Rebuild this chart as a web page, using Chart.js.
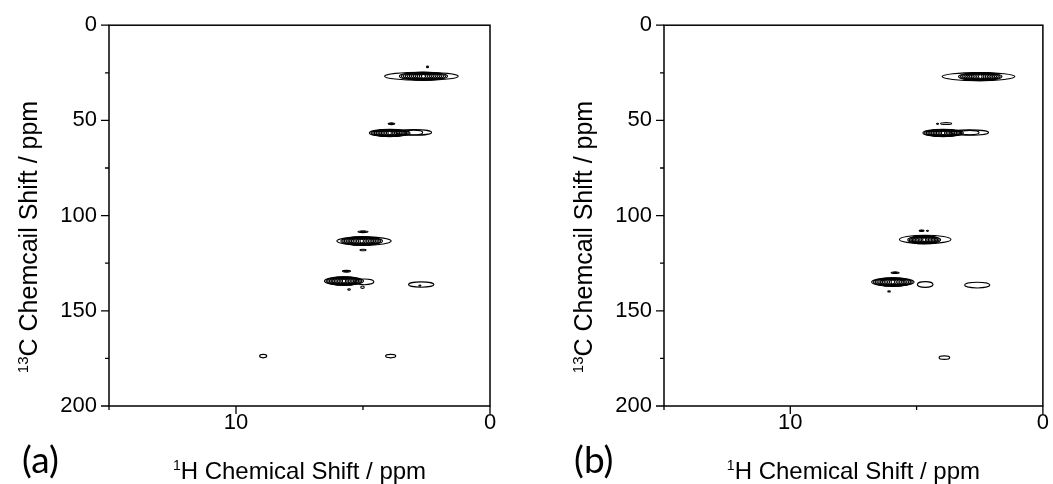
<!DOCTYPE html>
<html>
<head>
<meta charset="utf-8">
<script src="https://cdn.jsdelivr.net/npm/chart.js@4.4.0/dist/chart.umd.min.js"></script>
<style>
  html, body { margin: 0; padding: 0; background: #fff; }
  #wrap { position: relative; width: 1053px; height: 484px; overflow: hidden; }
  .panel { position: absolute; top: 0; height: 484px; }
  .tag { position: absolute; font-family: Lato, "Open Sans", sans-serif; font-size: 37px; line-height: 1; color: #000; }
</style>
</head>
<body>
<div id="wrap">
  <div class="panel" style="left:0;width:526px"><canvas id="chartA"></canvas></div>
  <div class="panel" style="left:526px;width:527px"><canvas id="chartB"></canvas></div>
  <div class="tag" style="left:22px;top:440px">(a)</div>
  <div class="tag" style="left:574px;top:440px">(b)</div>
</div>
<script>
// axis ticks (ppm)
const xTicks = [0, 5, 10, 15];
const yTicks = [0, 25, 50, 75, 100, 125, 150, 175, 200];

// panel (a) contour peaks: centre 1H / 13C (ppm), half widths (ppm), contour levels
const aH  = [2.70, 2.62, 2.46, 3.95, 3.00, 3.88, 4.96, 5.05, 5.00, 5.00, 5.75, 4.95, 5.65, 5.55, 5.02, 2.71, 2.76, 8.93, 3.91];
const aC  = [26.8, 26.8, 21.9, 56.6, 56.3, 51.8, 113.4, 113.4, 108.5, 118.1, 134.4, 134.8, 129.2, 138.8, 137.6, 136.2, 136.8, 173.8, 173.8];
const aWH = [1.45, 0.95, 0.04, 0.80, 0.70, 0.13, 1.07, 0.82, 0.20, 0.12, 0.77, 0.38, 0.16, 0.05, 0.07, 0.50, 0.04, 0.14, 0.20];
const aWC = [2.1, 2.1, 0.4, 1.9, 1.5, 0.45, 2.2, 2.2, 0.45, 0.4, 2.2, 1.5, 0.45, 0.4, 0.6, 1.4, 0.3, 0.9, 0.9];
const aLv = [1, 12, 1, 12, 2, 2, 1, 12, 2, 1, 12, 1, 2, 1, 1, 1, 1, 1, 1];

// panel (b)
const bH  = [2.55, 2.48, 3.95, 2.90, 4.17, 3.83, 4.66, 4.70, 4.80, 4.57, 5.94, 5.85, 6.09, 4.66, 2.60, 3.90];
const bC  = [27.0, 27.0, 56.6, 56.4, 51.8, 51.6, 112.5, 112.7, 108.0, 108.0, 134.9, 130.0, 139.8, 136.2, 136.5, 174.6];
const bWH = [1.44, 0.86, 0.80, 0.75, 0.04, 0.22, 1.02, 0.65, 0.10, 0.04, 0.84, 0.16, 0.05, 0.31, 0.50, 0.21];
const bWC = [2.1, 2.1, 1.9, 1.4, 0.3, 0.5, 2.2, 2.1, 0.35, 0.3, 2.2, 0.4, 0.35, 1.5, 1.5, 0.9];
const bLv = [1, 12, 12, 2, 1, 1, 1, 11, 2, 1, 12, 2, 1, 1, 1, 1];

const FONT = '"Liberation Sans", Arial, sans-serif';

function drawSup(ctx, sup, main, cx, baseY, size) {
  const ss = Math.round(size * 0.6);
  ctx.font = ss + 'px ' + FONT;
  const ws = ctx.measureText(sup).width;
  ctx.font = size + 'px ' + FONT;
  const wm = ctx.measureText(main).width;
  const x0 = cx - (ws + wm) / 2;
  ctx.textAlign = 'left';
  ctx.textBaseline = 'alphabetic';
  ctx.font = ss + 'px ' + FONT;
  ctx.fillText(sup, x0, baseY - size * 0.38);
  ctx.font = size + 'px ' + FONT;
  ctx.fillText(main, x0 + ws, baseY);
}

function nmrPlugin(peaks, yTitleX) {
  return {
    id: 'nmr',
    afterDraw(chart) {
      const { ctx, chartArea: a, scales: { x, y } } = chart;
      ctx.save();

      // contour rings
      ctx.save();
      ctx.beginPath();
      ctx.rect(a.left, a.top, a.right - a.left, a.bottom - a.top);
      ctx.clip();
      ctx.strokeStyle = '#000';
      ctx.lineWidth = 1.1;
      for (let i = 0; i < peaks.H.length; i++) {
        const cx = x.getPixelForValue(peaks.H[i]);
        const cy = y.getPixelForValue(peaks.C[i]);
        const rx = Math.abs(x.getPixelForValue(peaks.H[i] + peaks.wH[i]) - cx);
        const ry = Math.abs(y.getPixelForValue(peaks.C[i] + peaks.wC[i]) - cy);
        const n = peaks.lv[i];
        for (let k = 0; k < n; k++) {
          const f = 1 - k / n;
          ctx.beginPath();
          ctx.ellipse(cx, cy, Math.max(rx * f, 0.6), Math.max(ry * Math.pow(f, 0.3), 0.6), 0, 0, Math.PI * 2);
          ctx.stroke();
        }
      }
      ctx.restore();

      // frame
      ctx.strokeStyle = '#000';
      ctx.lineWidth = 1.5;
      ctx.strokeRect(a.left, a.top, a.right - a.left, a.bottom - a.top);

      // tick marks, long on labelled ticks
      ctx.lineWidth = 1.3;
      ctx.beginPath();
      xTicks.forEach(v => {
        const px = x.getPixelForValue(v);
        ctx.moveTo(px, a.bottom);
        ctx.lineTo(px, a.bottom + (v % 10 === 0 ? 8 : 4));
      });
      yTicks.forEach(v => {
        const py = y.getPixelForValue(v);
        ctx.moveTo(a.left, py);
        ctx.lineTo(a.left - (v % 50 === 0 ? 8 : 4), py);
      });
      ctx.stroke();

      // axis titles
      ctx.fillStyle = '#000';
      drawSup(ctx, '1', 'H Chemical Shift / ppm', (a.left + a.right) / 2, 479, 24);
      ctx.translate(yTitleX, 237);
      ctx.rotate(-Math.PI / 2);
      drawSup(ctx, '13', 'C Chemcail Shift / ppm', 0, 0, 25);

      ctx.restore();
    }
  };
}

function makeChart(id, peaks, leftW, rightPad, yTitleX) {
  return new Chart(document.getElementById(id), {
    type: 'scatter',
    data: { datasets: [] },
    options: {
      responsive: true,
      maintainAspectRatio: false,
      animation: false,
      events: [],
      layout: { padding: { top: 25, right: rightPad, left: 0, bottom: 0 } },
      plugins: { legend: { display: false }, tooltip: { enabled: false } },
      scales: {
        x: {
          type: 'linear', min: 0, max: 15, reverse: true,
          afterFit: s => { s.height = 78; },
          grid: { display: false, drawTicks: false },
          border: { display: false },
          ticks: {
            stepSize: 5, autoSkip: false, maxRotation: 0, padding: 4,
            color: '#000', font: { family: FONT, size: 22 },
            callback: v => (v % 10 === 0 ? v : '')
          }
        },
        y: {
          type: 'linear', min: 0, max: 200, reverse: true,
          afterFit: s => { s.width = leftW; },
          grid: { display: false, drawTicks: false },
          border: { display: false },
          ticks: {
            stepSize: 25, autoSkip: false, padding: 12,
            color: '#000', font: { family: FONT, size: 22 },
            callback: v => (v % 50 === 0 ? v : '')
          }
        }
      }
    },
    plugins: [nmrPlugin(peaks, yTitleX)]
  });
}

makeChart('chartA', { H: aH, C: aC, wH: aWH, wC: aWC, lv: aLv }, 109, 36, 37);
makeChart('chartB', { H: bH, C: bC, wH: bWH, wC: bWC, lv: bLv }, 138, 9, 66);
</script>
</body>
</html>
